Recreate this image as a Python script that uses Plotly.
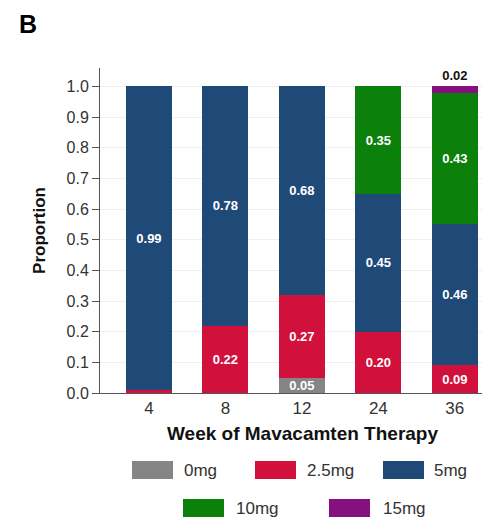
import plotly.graph_objects as go

weeks = ["4", "8", "12", "24", "36"]
dose_names = ["0mg", "2.5mg", "5mg", "10mg", "15mg"]
p_0mg = [0.0, 0.0, 0.05, 0.0, 0.0]
p_2_5mg = [0.01, 0.22, 0.27, 0.20, 0.09]
p_5mg = [0.99, 0.78, 0.68, 0.45, 0.46]
p_10mg = [0.0, 0.0, 0.0, 0.35, 0.43]
p_15mg = [0.0, 0.0, 0.0, 0.0, 0.02]
colors = ["#858585", "#d2103c", "#1f4a78", "#0b800b", "#85107f"]

series = [p_0mg, p_2_5mg, p_5mg, p_10mg, p_15mg]
FONT = "Liberation Sans, Arial, sans-serif"

# page body adds an 8px margin; work in figure coordinates
OFF = 8
W, HT = 490 - OFF, 520 - OFF
L = 100 - OFF
T = 68 - OFF
BOT = 393 - OFF  # y pixel of zero line in figure coords
PW = W - L
PH = BOT - T

fig = go.Figure()
for name, vals, col in zip(dose_names, series, colors):
    labels = [f"{v:.2f}" if v >= 0.02 else "" for v in vals]
    outside = name == "15mg"
    fig.add_trace(go.Bar(
        x=weeks, y=vals, name=name, marker=dict(color=col, line=dict(width=0)),
        text=labels,
        textposition="outside" if outside else "inside",
        insidetextanchor="middle",
        textangle=0,
        constraintext="none",
        textfont=dict(family=FONT, size=13, color="#111111" if outside else "white", weight="bold"),
        width=0.6,
        showlegend=False,
        cliponaxis=False,
    ))

fig.update_layout(
    barmode="stack",
    width=W, height=HT,
    margin=dict(l=L, r=0, t=T, b=HT - BOT),
    paper_bgcolor="white", plot_bgcolor="white",
    font=dict(family=FONT, color="#333333"),
    xaxis=dict(
        type="category", range=[-0.64, 4.46],
        showline=True, linecolor="#555555", linewidth=1,
        ticks="", tickfont=dict(size=17, color="#333333"),
        showgrid=False,
    ),
    yaxis=dict(
        range=[0, 1.06], tickvals=[i / 10 for i in range(11)], tickformat=".1f",
        showline=True, linecolor="#555555", linewidth=1,
        ticks="outside", ticklen=7, tickcolor="#555555",
        tickfont=dict(size=16, color="#333333"),
        showgrid=True, gridcolor="#efefef", gridwidth=1,
        zeroline=False,
        title=dict(text="<b>Proportion</b>", font=dict(size=17, color="#111111"), standoff=16),
    ),
)

def px(xpx):
    return (xpx - OFF - L) / PW
def py(ypx):
    return (BOT - (ypx - OFF)) / PH

# X axis title
fig.add_annotation(text="<b>Week of Mavacamten Therapy</b>", xref="paper", yref="paper",
                   x=px(302), y=py(433), xanchor="center", yanchor="middle", showarrow=False,
                   font=dict(size=19, color="#111111"))

# Panel letter
fig.add_annotation(text="<b>B</b>", xref="paper", yref="paper", x=px(17), y=py(24),
                   xanchor="left", yanchor="middle", showarrow=False, font=dict(size=25, color="#000000"))

# Custom legend with wide swatches (reference pixel coordinates)
legend_items = [
    (132, 182, 470), (255, 305, 470), (383, 432, 470),
    (183, 234, 508), (329, 381, 508),
]
for (sx, tx, cy), name, col in zip(legend_items, dose_names, colors):
    fig.add_shape(type="rect", xref="paper", yref="paper",
                  x0=px(sx), x1=px(sx + 41), y0=py(cy + 9), y1=py(cy - 9),
                  fillcolor=col, line=dict(width=0))
    fig.add_annotation(text=name, xref="paper", yref="paper", x=px(tx), y=py(cy),
                       xanchor="left", yanchor="middle", showarrow=False,
                       font=dict(size=17, color="#333333"))

fig.write_html("out.html")
